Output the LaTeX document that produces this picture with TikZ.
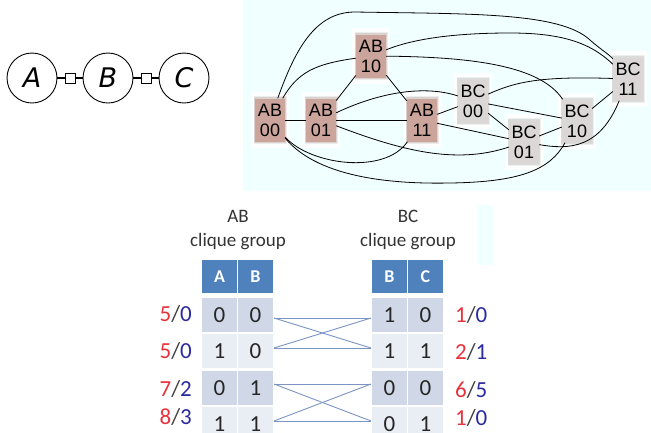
\documentclass[tikz,border=0pt]{standalone}
\usepackage{fontspec}
\setmainfont{Carlito}
\newfontfamily\graphfont{Liberation Sans}
\newfontfamily\varfont{DejaVu Sans}
\usetikzlibrary{shadows}

\definecolor{panelbg}{HTML}{F0FFFF}
\definecolor{abfill}{HTML}{CBA59C}
\definecolor{bcfill}{HTML}{DCD7D7}
\definecolor{hdrblue}{HTML}{4F81BD}
\definecolor{rowdark}{HTML}{D0D8E8}
\definecolor{rowlight}{HTML}{E9EDF4}
\definecolor{linkblue}{HTML}{7A94C4}
\definecolor{numred}{HTML}{E8323C}
\definecolor{numblue}{HTML}{2B2BA0}
\definecolor{slashgray}{HTML}{404040}
\definecolor{titlegray}{HTML}{333333}

\newcommand{\ratio}[2]{\textcolor{numred}{#1}\textcolor{slashgray}{/}\textcolor{numblue}{#2}}

\tikzset{
  varnode/.style={circle, draw, line width=0.9pt, minimum size=50pt, inner sep=0pt,
    font=\varfont\itshape\fontsize{27}{27}\selectfont},
  factor/.style={rectangle, draw, fill=white, line width=0.9pt, minimum size=10pt, inner sep=0pt},
  fglink/.style={line width=1.4pt},
  statebox/.style={rectangle, minimum width=30pt, minimum height=43pt, inner sep=0pt,
    align=center, font=\graphfont\fontsize{18}{20}\selectfont},
  abbox/.style={statebox, fill=abfill,
    general shadow={fill=white, shadow scale=1.28, opacity=0.9},
    general shadow={fill=abfill!60!black, shadow scale=1.10, opacity=0.12},
    general shadow={fill=abfill!60!black, shadow scale=1.05, opacity=0.18}},
  bcbox/.style={statebox, fill=bcfill,
    general shadow={fill=white, shadow scale=1.28, opacity=0.9},
    general shadow={fill=bcfill!60!black, shadow scale=1.10, opacity=0.12},
    general shadow={fill=bcfill!60!black, shadow scale=1.05, opacity=0.18}},
  link/.style={draw=black, line width=0.8pt},
  grouptitle/.style={align=center, text=titlegray, inner sep=0pt,
    font=\fontsize{19}{24}\selectfont},
  cell/.style={rectangle, minimum width=35pt, minimum height=34pt, inner sep=0pt,
    text=black!85, font=\fontsize{23}{24}\selectfont},
  darkcell/.style={cell, fill=rowdark},
  lightcell/.style={cell, fill=rowlight},
  hdrcell/.style={cell, fill=hdrblue, minimum height=33pt, text=white,
    font=\bfseries\fontsize{18}{20}\selectfont},
  lbl/.style={inner sep=0pt, font=\fontsize{23}{24}\selectfont},
  xlink/.style={draw=linkblue, line width=0.9pt},
}

\begin{document}
\begin{tikzpicture}[x=1pt,y=-1pt]
\useasboundingbox (0,0) rectangle (651,432);
\clip (0,0) rectangle (651,432);

% ---------- factor graph A - B - C ----------
\node[varnode] (A) at (32,78) {A};
\node[varnode] (B) at (108,78) {B};
\node[varnode] (C) at (184,78) {C};
\node[factor] (fab) at (70.5,78) {};
\node[factor] (fbc) at (146.5,78) {};
\draw[fglink] (A) -- (fab);
\draw[fglink] (fab) -- (B);
\draw[fglink] (B) -- (fbc);
\draw[fglink] (fbc) -- (C);

% ---------- state graph panel ----------
\fill[panelbg] (243,0) rectangle (651,191);

\node[abbox] (ab00) at (270,120) {AB\\00};
\node[abbox] (ab01) at (321,120) {AB\\01};
\node[abbox] (ab10) at (371,56)  {AB\\10};
\node[abbox] (ab11) at (422,120) {AB\\11};
\node[bcbox] (bc00) at (473,101) {BC\\00};
\node[bcbox] (bc01) at (524,142) {BC\\01};
\node[bcbox] (bc10) at (577,121) {BC\\10};
\node[bcbox] (bc11) at (628,79)  {BC\\11};

% straight links
\draw[link] (ab00) -- (ab01);
\draw[link] (ab01) -- (ab11);
\draw[link] (ab01) -- (ab10);
\draw[link] (ab10) -- (ab11);
\draw[link] (ab11) -- (bc00);
\draw[link] (ab11) -- (bc01);
\draw[link] (bc00) -- (bc01);
\draw[link] (bc00) -- (bc10);
\draw[link] (bc01) -- (bc10);
\draw[link] (bc10) -- (bc11);

% curved links
\draw[link] (ab00) .. controls (295,50) and (315,12) .. (355,12)
                   .. controls (470,14) and (560,12) .. (590,40)
                   .. controls (600,49) and (610,55) .. (bc11);
\draw[link] (ab10) .. controls (420,36) and (470,33) .. (510,33)
                   .. controls (560,33) and (590,42) .. (bc11);
\draw[link] (ab10) .. controls (470,57) and (540,65) .. (bc10);
\draw[link] (ab00) .. controls (298,72) and (315,64) .. (ab10);
\draw[link] (ab01) .. controls (380,92) and (425,85) .. (bc00);
\draw[link] (ab01) .. controls (400,150) and (455,165) .. (bc01);
\draw[link] (ab00) .. controls (310,165) and (385,175) .. (ab11);
\draw[link] (ab00) .. controls (320,180) and (400,184) .. (450,183)
                   .. controls (520,182) and (550,170) .. (bc10);
\draw[link] (bc00) .. controls (515,82) and (540,76) .. (bc11);
\draw[link] (bc01) .. controls (570,150) and (600,148) .. (bc11);

% ---------- clique group tables ----------
\fill[panelbg] (478,205) rectangle (493,265);

\node[grouptitle] (abtitle) at (238,230) {AB\\clique group};
\node[grouptitle] (bctitle) at (408,230) {BC\\clique group};

% AB table
\node[hdrcell] (abhA) at (219.5,276.5) {A};
\node[hdrcell] (abhB) at (255.5,276.5) {B};
\node[darkcell]  (ab1a) at (219.5,315) {0};
\node[darkcell]  (ab1b) at (255.5,315) {0};
\node[lightcell] (ab2a) at (219.5,351) {1};
\node[lightcell] (ab2b) at (255.5,351) {0};
\node[darkcell]  (ab3a) at (219.5,388) {0};
\node[darkcell]  (ab3b) at (255.5,388) {1};
\node[lightcell] (ab4a) at (219.5,424) {1};
\node[lightcell] (ab4b) at (255.5,424) {1};

% BC table
\node[hdrcell] (bchB) at (389.5,276.5) {B};
\node[hdrcell] (bchC) at (425.5,276.5) {C};
\node[darkcell]  (bc1a) at (389.5,315) {1};
\node[darkcell]  (bc1b) at (425.5,315) {0};
\node[lightcell] (bc2a) at (389.5,351) {1};
\node[lightcell] (bc2b) at (425.5,351) {1};
\node[darkcell]  (bc3a) at (389.5,388) {0};
\node[darkcell]  (bc3b) at (425.5,388) {0};
\node[lightcell] (bc4a) at (389.5,424) {0};
\node[lightcell] (bc4b) at (425.5,424) {1};

% row counts
\node[lbl, anchor=east] (abc1) at (192,313.5) {\ratio{5}{0}};
\node[lbl, anchor=east] (abc2) at (192,351)   {\ratio{5}{0}};
\node[lbl, anchor=east] (abc3) at (192,389)   {\ratio{7}{2}};
\node[lbl, anchor=east] (abc4) at (192,417)   {\ratio{8}{3}};
\node[lbl, anchor=west] (bcc1) at (455,315)   {\ratio{1}{0}};
\node[lbl, anchor=west] (bcc2) at (455,352)   {\ratio{2}{1}};
\node[lbl, anchor=west] (bcc3) at (455,390)   {\ratio{6}{5}};
\node[lbl, anchor=west] (bcc4) at (455,418)   {\ratio{1}{0}};

% matching rows across the two tables
\coordinate (l1) at (274,318); \coordinate (r1) at (371,318);
\coordinate (l2) at (274,348); \coordinate (r2) at (371,348);
\coordinate (l3) at (274,384); \coordinate (r3) at (371,384);
\coordinate (l4) at (274,421); \coordinate (r4) at (371,421);
\draw[xlink] (l1) -- (r1);
\draw[xlink] (l1) -- (r2);
\draw[xlink] (l2) -- (r1);
\draw[xlink] (l2) -- (r2);
\draw[xlink] (l3) -- (r3);
\draw[xlink] (l3) -- (r4);
\draw[xlink] (l4) -- (r3);
\draw[xlink] (l4) -- (r4);
\end{tikzpicture}
\end{document}
